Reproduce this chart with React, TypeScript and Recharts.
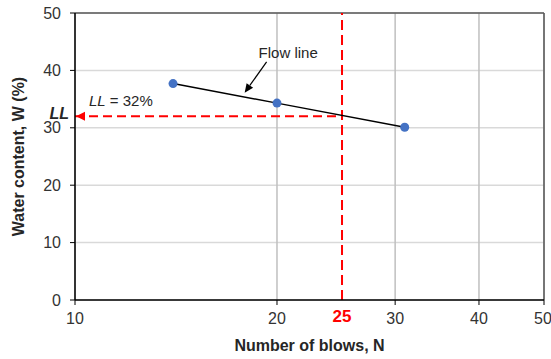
import React from 'react';
import {
  ComposedChart,
  Line,
  XAxis,
  YAxis,
  CartesianGrid,
  ReferenceLine,
  ReferenceDot,
  Label,
} from 'recharts';

// liquid limit test: blows vs water content
const blows = [14, 20, 31];
const waterContent = [37.7, 34.3, 30.1];
const xTicks = [10, 20, 30, 40, 50];
const yTicks = [0, 10, 20, 30, 40, 50];
const standardBlows = 25;
const liquidLimit = 32;
// flow line callout arrow (start near the label, tip at the line)
const flowArrow = [
  { x: 19.3, y: 41.5 },
  { x: 17.9, y: 36.1 },
];

const data = blows.map((n, i) => ({ n, w: waterContent[i] }));

const FONT = '"Liberation Sans", Arial, sans-serif';
const RED = '#ff0000';

const FlowArrow = (props: any) => {
  // tip is the lower end on screen (the one touching the flow line)
  let { x1, y1, x2, y2 } = props;
  if (y1 > y2) {
    [x1, y1, x2, y2] = [x2, y2, x1, y1];
  }
  const ang = Math.atan2(y2 - y1, x2 - x1);
  const len = 9;
  const w = 4;
  const bx = x2 - len * Math.cos(ang);
  const by = y2 - len * Math.sin(ang);
  const px = -Math.sin(ang) * w;
  const py = Math.cos(ang) * w;
  return (
    <g>
      <line x1={x1} y1={y1} x2={bx} y2={by} stroke="#000" strokeWidth={1.2} />
      <polygon
        points={`${x2},${y2} ${bx + px},${by + py} ${bx - px},${by - py}`}
        fill="#000"
      />
      <text
        x={x1 - 8}
        y={y1 - 4}
        fontSize={15}
        fontFamily={FONT}
        fill="#262626"
      >
        Flow line
      </text>
    </g>
  );
};

const LLMarker = (props: any) => {
  const { cx, cy } = props;
  return (
    <g>
      <polygon
        points={`${cx + 1},${cy} ${cx + 10},${cy - 4.5} ${cx + 10},${cy + 4.5}`}
        fill={RED}
      />
      <text
        x={cx - 6}
        y={cy + 2.5}
        textAnchor="end"
        fontSize={16}
        fontWeight="bold"
        fontStyle="italic"
        fontFamily={FONT}
        fill="#262626"
      >
        LL
      </text>
      <text x={cx + 14} y={cy - 10} fontSize={15} fontFamily={FONT} fill="#262626">
        <tspan fontStyle="italic">LL</tspan>
        <tspan>{` = ${liquidLimit}%`}</tspan>
      </text>
    </g>
  );
};

const tickStyle = { fill: '#333333', fontSize: 16, fontFamily: FONT };

export default function App() {
  return (
    <div style={{ position: 'absolute', left: 0, top: 0, background: '#fff' }}>
      <ComposedChart
        width={551}
        height={359}
        data={data}
        margin={{ top: 13, right: 7, left: 30, bottom: 29 }}
      >
        <CartesianGrid vertical={false} stroke="#d9d9d9" strokeWidth={1.5} />
        <CartesianGrid horizontal={false} stroke="#bfbfbf" strokeWidth={1.5} />
        <XAxis
          dataKey="n"
          type="number"
          scale="log"
          domain={[10, 50]}
          ticks={xTicks}
          allowDataOverflow
          height={30}
          tickSize={5}
          tickMargin={8}
          tick={tickStyle}
          axisLine={{ stroke: '#000', strokeWidth: 1.5 }}
          tickLine={{ stroke: '#000' }}
        >
          <Label
            value="Number of blows, N"
            position="bottom"
            offset={10}
            style={{ fontSize: 16, fontWeight: 'bold', fontFamily: FONT, fill: '#262626' }}
          />
        </XAxis>
        <YAxis
          type="number"
          domain={[0, 50]}
          ticks={yTicks}
          width={45}
          tickSize={5}
          tickMargin={9}
          tick={tickStyle}
          axisLine={{ stroke: '#000', strokeWidth: 1.5 }}
          tickLine={{ stroke: '#000' }}
        >
          <Label
            value="Water content, W (%)"
            angle={-90}
            position="center"
            dx={-34}
            style={{ fontSize: 16, fontWeight: 'bold', fontFamily: FONT, fill: '#262626', textAnchor: 'middle' }}
          />
        </YAxis>
        <ReferenceLine y={50} stroke="#595959" strokeWidth={1.5} />
        <ReferenceLine x={50} stroke="#595959" strokeWidth={1.5} />
        <ReferenceLine
          x={standardBlows}
          stroke={RED}
          strokeWidth={2}
          strokeDasharray="10 5"
        >
          <Label
            value={String(standardBlows)}
            position="bottom"
            offset={10}
            style={{ fontSize: 17, fontWeight: 'bold', fontFamily: FONT, fill: RED }}
          />
        </ReferenceLine>
        <ReferenceLine
          segment={[
            { x: 10, y: liquidLimit },
            { x: standardBlows, y: liquidLimit },
          ]}
          stroke={RED}
          strokeWidth={2}
          strokeDasharray="9 5"
        />
        <ReferenceLine segment={flowArrow} shape={FlowArrow} />
        <Line
          dataKey="w"
          type="linear"
          stroke="#000"
          strokeWidth={1.5}
          dot={{ r: 4.5, fill: '#4472c4', stroke: '#4472c4', strokeWidth: 0 }}
          isAnimationActive={false}
        />
        <ReferenceDot x={10} y={liquidLimit} r={0} shape={LLMarker} />
      </ComposedChart>
    </div>
  );
}
